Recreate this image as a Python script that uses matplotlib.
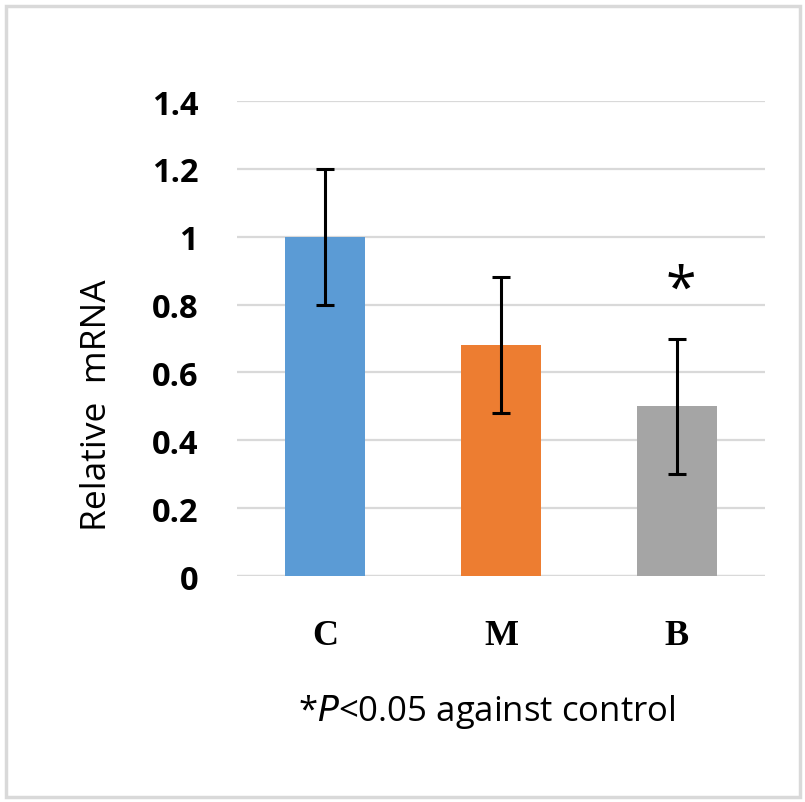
import matplotlib.pyplot as plt
from matplotlib.patches import Rectangle

groups = ["C", "M", "B"]
values = [1.0, 0.68, 0.5]
errors = [0.2, 0.2, 0.2]
colors = ["#5B9BD5", "#ED7D31", "#A5A5A5"]
yticks = [0, 0.2, 0.4, 0.6, 0.8, 1, 1.2, 1.4]
ytick_labels = ["0", "0.2", "0.4", "0.6", "0.8", "1", "1.2", "1.4"]

fig = plt.figure(figsize=(8.05, 8.03), dpi=100)
fig.patches.append(Rectangle((0.008, 0.006), 0.986, 0.985, transform=fig.transFigure,
                             fill=False, edgecolor="#D9D9D9", lw=2.5))

ax = fig.add_axes([0.2944, 0.2814, 0.6559, 0.5915])
x = range(len(groups))
ax.bar(x, values, width=0.455, color=colors, zorder=2,
       yerr=errors, error_kw=dict(ecolor="black", elinewidth=2.2, capsize=6.5, capthick=2.2, zorder=3))

ax.set_xlim(-0.5, 2.5)
ax.set_ylim(0, 1.4)
ax.set_yticks(yticks)
ax.set_yticklabels(ytick_labels, fontdict=dict(family="Open Sans", weight="bold", size=23.5))
ax.set_xticks(list(x))
ax.set_xticklabels(groups, fontdict=dict(family="Liberation Serif", weight="bold", size=26))
ax.tick_params(axis="y", length=0, pad=28)
ax.tick_params(axis="x", length=0, pad=31)
ax.yaxis.grid(True, color="#D9D9D9", lw=1.6, zorder=0)
ax.set_axisbelow(True)
for s in ax.spines.values():
    s.set_visible(False)
ax.axhline(0, color="#D9D9D9", lw=1.6, zorder=1)

fig.text(0.12, 0.496, "Relative  mRNA", rotation=90, ha="center", va="center",
         family="Open Sans", size=25.5)
ax.text(2.02, 0.84, "*", ha="center", va="center", family="Open Sans", size=40)
fig.text(0.605, 0.113, r"*$\it{P}$<0.05 against control", ha="center", va="center",
         family="Open Sans", size=25)

fig.savefig("out.png", dpi=100)
